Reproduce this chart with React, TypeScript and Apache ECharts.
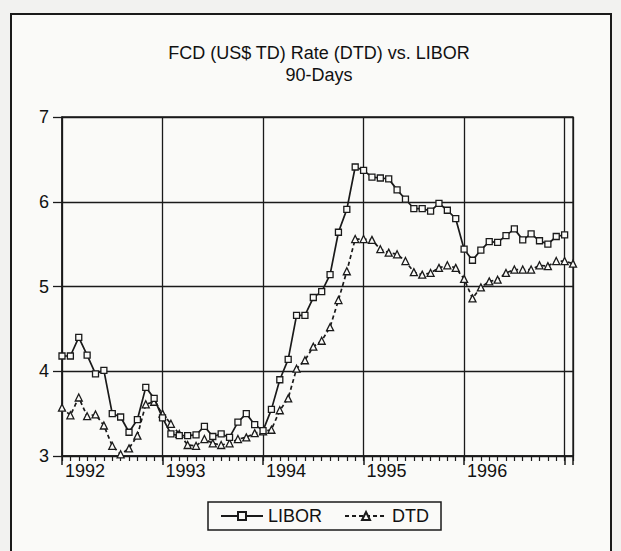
import React, { useEffect, useRef } from 'react';
import * as echarts from 'echarts';

const titleLines = ['FCD (US$ TD) Rate (DTD) vs. LIBOR', '90-Days'];
const yearLabels = ['1992', '1993', '1994', '1995', '1996'];
const monthNames = ['Jan', 'Feb', 'Mar', 'Apr', 'May', 'Jun', 'Jul', 'Aug', 'Sep', 'Oct', 'Nov', 'Dec'];
// Monthly categories Jan 1992 .. Feb 1997
const monthLabels: string[] = [];
['1992', '1993', '1994', '1995', '1996', '1997'].forEach((y) =>
  monthNames.forEach((m) => monthLabels.push(m + ' ' + y))
);
monthLabels.splice(62);

const libor = [
  4.18, 4.18, 4.40, 4.19, 3.97, 4.01, 3.50, 3.46, 3.28, 3.43, 3.81, 3.68,
  3.45, 3.26, 3.24, 3.24, 3.25, 3.35, 3.23, 3.26, 3.22, 3.40, 3.50, 3.37,
  3.30, 3.55, 3.90, 4.14, 4.66, 4.66, 4.87, 4.94, 5.14, 5.64, 5.91, 6.41,
  6.37, 6.29, 6.28, 6.27, 6.14, 6.03, 5.92, 5.92, 5.89, 5.98, 5.90, 5.80,
  5.44, 5.31, 5.43, 5.53, 5.52, 5.60, 5.68, 5.55, 5.62, 5.54, 5.50, 5.59,
  5.61,
];
const dtd = [
  3.57, 3.48, 3.69, 3.47, 3.49, 3.36, 3.12, 3.02, 3.09, 3.24, 3.61, 3.64,
  3.50, 3.38, 3.26, 3.13, 3.12, 3.20, 3.15, 3.13, 3.15, 3.20, 3.22, 3.27,
  3.29, 3.31, 3.54, 3.68, 4.03, 4.13, 4.29, 4.36, 4.52, 4.84, 5.18, 5.56,
  5.56, 5.55, 5.44, 5.40, 5.38, 5.30, 5.17, 5.14, 5.16, 5.22, 5.25, 5.22,
  5.09, 4.86, 4.99, 5.06, 5.08, 5.16, 5.20, 5.20, 5.20, 5.25, 5.24, 5.30,
  5.30, 5.27,
];
const yMin = 3;
const yMax = 7;

const INK = '#1a1a1a';
const FONT = '"Liberation Sans", Arial, sans-serif';

export default function App() {
  const ref = useRef<HTMLDivElement>(null);
  useEffect(() => {
    const chart = echarts.init(ref.current!, null, { renderer: 'svg' });
    chart.setOption({
      animation: false,
      backgroundColor: '#f2f2f0',
      textStyle: { fontFamily: FONT },
      graphic: [
        {
          type: 'rect',
          z: -10,
          shape: { x: 11, y: 14, width: 600, height: 560 },
          style: { fill: '#fafaf8', stroke: INK, lineWidth: 2 },
        },
        {
          type: 'text',
          style: {
            text: titleLines[0], x: 319, y: 53, textAlign: 'center', textVerticalAlign: 'middle',
            fill: '#111', font: '18px ' + FONT,
          },
        },
        {
          type: 'text',
          style: {
            text: titleLines[1], x: 319, y: 75, textAlign: 'center', textVerticalAlign: 'middle',
            fill: '#111', font: '18px ' + FONT,
          },
        },
      ],
      grid: {
        left: 62, right: 48, top: 117, bottom: 95,
        show: true, borderColor: INK, borderWidth: 1.3, backgroundColor: 'transparent',
      },
      legend: {
        data: ['LIBOR', 'DTD'],
        left: 208, top: 502,
        itemWidth: 42, itemHeight: 10, itemGap: 22,
        borderColor: INK, borderWidth: 1.5, padding: [5, 12],
        backgroundColor: '#fafaf8',
        textStyle: { fontSize: 18, color: '#111', fontFamily: FONT },
      },
      xAxis: [
        {
          type: 'value', min: 0, max: 61, interval: 12, position: 'bottom',
          axisLine: { show: true, onZero: false, lineStyle: { color: INK, width: 1.5 } },
          axisTick: { show: true, length: 9, lineStyle: { color: INK, width: 1.5 } },
          splitLine: { show: true, lineStyle: { color: INK, width: 1.3 } },
          axisLabel: {
            formatter: (v: number) =>
              v % 12 === 0 && v / 12 < yearLabels.length ? yearLabels[v / 12] : '',
            align: 'left', margin: 6, padding: [0, 0, 0, 3],
            fontSize: 18, color: '#111', fontFamily: FONT,
          },
        },
        {
          type: 'category', data: monthLabels, boundaryGap: false, position: 'bottom',
          axisLine: { show: false },
          axisTick: { show: true, interval: 0, length: 5, lineStyle: { color: INK, width: 1.2 } },
          axisLabel: { show: false },
          splitLine: { show: false },
        },
      ],
      yAxis: {
        type: 'value', min: yMin, max: yMax, interval: 1,
        axisLine: { show: true, lineStyle: { color: INK, width: 1.5 } },
        axisTick: { show: true, length: 9, lineStyle: { color: INK, width: 1.3 } },
        splitLine: { show: true, lineStyle: { color: INK, width: 1.3 } },
        axisLabel: {
          fontSize: 18, color: '#111', margin: 13, fontFamily: FONT,
          padding: [0, 0, 10, 0],
        },
      },
      series: [
        {
          name: 'LIBOR', type: 'line', xAxisIndex: 0,
          data: libor.map((v, i) => [i, v]),
          symbol: 'rect', symbolSize: 6, showAllSymbol: true,
          lineStyle: { color: INK, width: 1.7, type: 'solid' },
          itemStyle: { color: '#fafaf8', borderColor: INK, borderWidth: 1.3 },
          z: 4,
        },
        {
          name: 'DTD', type: 'line', xAxisIndex: 0,
          data: dtd.map((v, i) => [i, v]),
          symbol: 'triangle', symbolSize: 7, showAllSymbol: true,
          lineStyle: { color: INK, width: 1.7, type: [4, 3] },
          itemStyle: { color: '#fafaf8', borderColor: INK, borderWidth: 1.3 },
          z: 3,
        },
      ],
    });
    return () => chart.dispose();
  }, []);
  return (
    <div
      ref={ref}
      style={{ position: 'fixed', left: 0, top: 0, width: 621, height: 551 }}
    />
  );
}
